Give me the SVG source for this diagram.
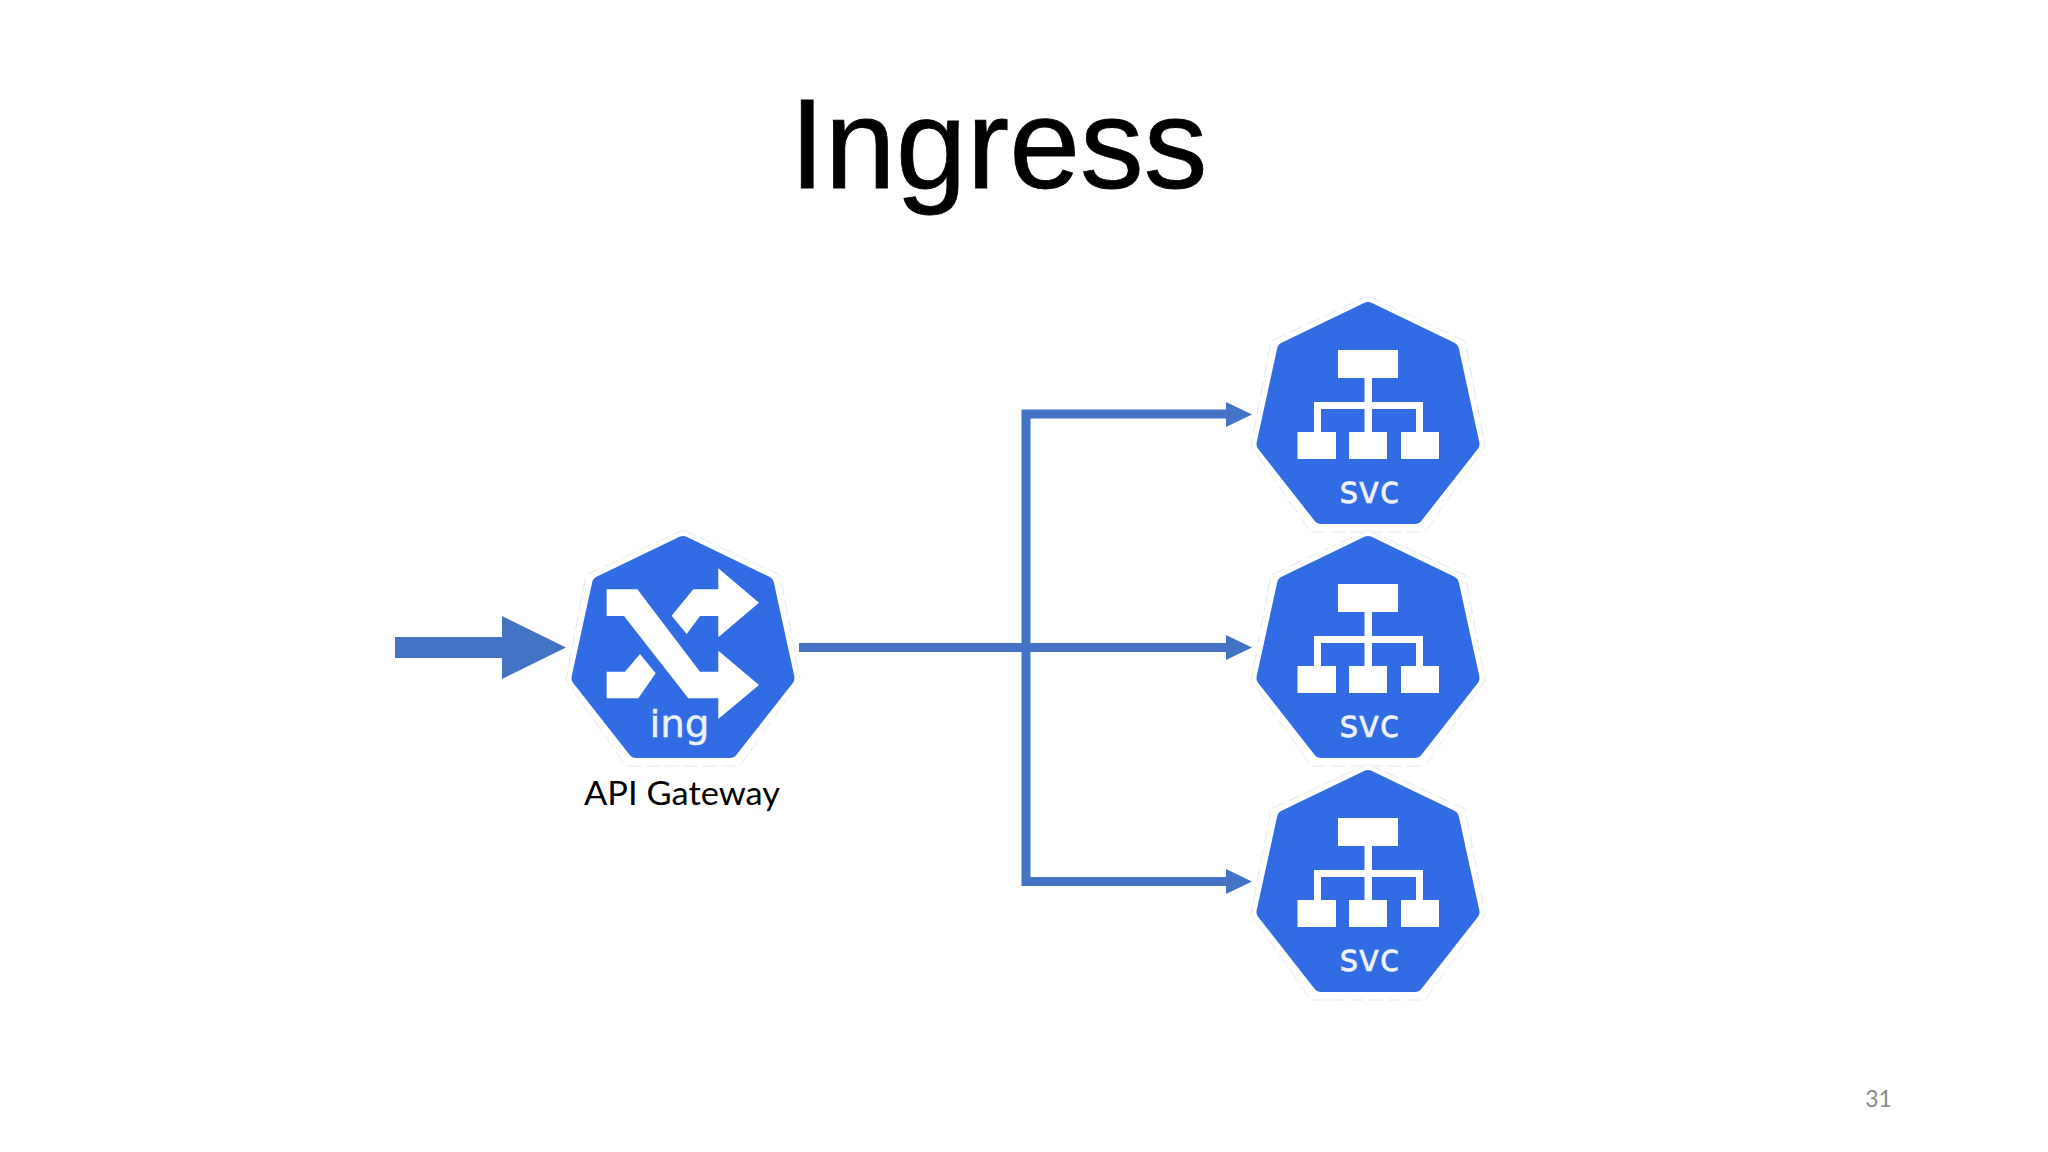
<svg xmlns="http://www.w3.org/2000/svg" xmlns:xlink="http://www.w3.org/1999/xlink" width="2048" height="1152" viewBox="0 0 2048 1152">
<style>
.line{fill:none;stroke:#4472C4;stroke-width:9}
.head{fill:#4472C4}
.hex{fill:#326CE5;stroke:#326CE5;stroke-width:16;stroke-linejoin:round}
.halo{fill:#fff;stroke:#e6e8ea;stroke-width:1;stroke-dasharray:14 5;stroke-linejoin:round}
.glyph{fill:#fff}
.kind{font-family:"DejaVu Sans",sans-serif;fill:#eef2fc;stroke:#eef2fc;stroke-width:0.4;text-anchor:middle}
</style>
<defs>
<polygon id="hexHalo" points="0,-7 97,38 117,143 57,229 -57,229 -117,143 -97,38"/>
<polygon id="hexBody" points="0,7 83,47 103.500,141 47,213 -47,213 -103.500,141 -83,47"/>
<g id="svcIcon">
<use href="#hexHalo" class="halo"/>
<use href="#hexBody" class="hex"/>
<rect class="glyph" x="-30" y="47" width="60" height="28"/>
<rect class="glyph" x="-3.500" y="75" width="7.500" height="57"/>
<path class="glyph" d="M-54 129V99H55V129H48V106H-47V129Z"/>
<rect class="glyph" x="-70.500" y="129" width="38.500" height="27"/>
<rect class="glyph" x="-19" y="129" width="38" height="27"/>
<rect class="glyph" x="33" y="129" width="38" height="27"/>
<text class="kind" x="1.500" y="200" font-size="39" textLength="60" lengthAdjust="spacingAndGlyphs">svc</text>
</g>
</defs>
<rect width="2048" height="1152" fill="#fff"/>
<text id="title" x="998.500" y="188" font-family="'Liberation Sans',Arial,sans-serif" font-size="127.500" text-anchor="middle" fill="#000" stroke="#000" stroke-width="0.8">Ingress</text>
<g id="connectors">
<polygon class="head" points="395,637 502,637 502,616 566,647.500 502,679 502,658 395,658"/>
<path class="line" d="M799 647.500H1232"/>
<path class="line" d="M1232 414H1026V881.500H1232"/>
<polygon class="head" points="1226,402 1252,414.500 1226,427"/>
<polygon class="head" points="1226,635 1252,647.500 1226,660"/>
<polygon class="head" points="1226,869 1252,881.500 1226,894"/>
</g>
<g id="ing">
<g transform="translate(683,537)">
<use href="#hexHalo" class="halo"/>
<use href="#hexBody" class="hex"/>
</g>
<g transform="translate(560,530) scale(0.3333)">
<polygon class="glyph" points="140,178 232,178 420,425 475,425 475,362 597,465 475,567 475,505 385,505 192,258 140,258"/>
<polygon class="glyph" points="335,257 400,178 475,178 475,115 597,218 475,322 475,258 420,258 380,312"/>
<polygon class="glyph" points="140,425 195,425 240,372 287,430 235,505 140,505"/>
</g>
<text class="kind" x="679.500" y="737" font-size="38" textLength="60" lengthAdjust="spacingAndGlyphs">ing</text>
<text x="682" y="805" font-family="Lato,'Open Sans',sans-serif" font-size="33" text-anchor="middle" fill="#000" textLength="196" lengthAdjust="spacingAndGlyphs">API Gateway</text>
</g>
<g id="svc1" transform="translate(1368,303)"><use href="#svcIcon"/></g>
<g id="svc2" transform="translate(1368,537)"><use href="#svcIcon"/></g>
<g id="svc3" transform="translate(1368,771)"><use href="#svcIcon"/></g>
<text id="page" x="1878.500" y="1106.500" font-family="Lato,'Open Sans',sans-serif" font-size="23" text-anchor="middle" fill="#8a8a8a">31</text>
</svg>
